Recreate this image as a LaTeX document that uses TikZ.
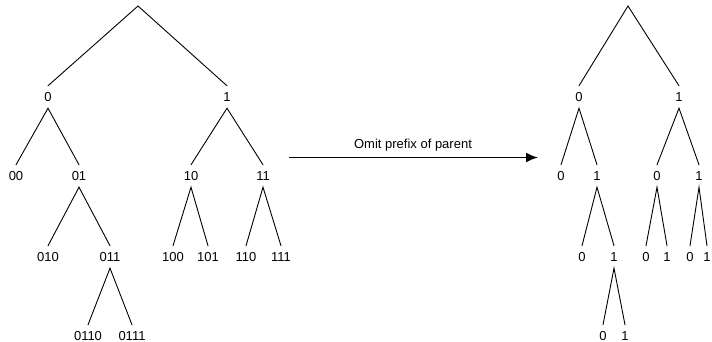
\documentclass[tikz,border=0pt]{standalone}
\usepackage{fontspec}
\setmainfont{Liberation Sans}
\usetikzlibrary{arrows.meta}
\begin{document}
\begin{tikzpicture}[x=1pt,y=-1pt,
  lbl/.style={inner sep=0pt, minimum height=22pt, font=\fontsize{13}{15}\selectfont},
  edge/.style={line width=0.9pt, line cap=round},
  bigarrow/.style={line width=1.8pt, -{Latex[length=12pt,width=10pt]}},
  ]
\useasboundingbox (0,0) rectangle (712,342);
% ---------- left tree ----------
\coordinate (Lr) at (138,6);
\node[lbl] (L0) at (48,97) {0};
\node[lbl] (L1) at (227,97) {1};
\node[lbl] (L00) at (16,176) {00};
\node[lbl] (L01) at (79,176) {01};
\node[lbl] (L10) at (191,176) {10};
\node[lbl] (L11) at (263,176) {11};
\node[lbl] (L010) at (48,257) {010};
\node[lbl] (L011) at (110,257) {011};
\node[lbl] (L100) at (173,257) {100};
\node[lbl] (L101) at (208,257) {101};
\node[lbl] (L110) at (246,257) {110};
\node[lbl] (L111) at (281,257) {111};
\node[lbl] (L0110) at (88,336) {0110};
\node[lbl] (L0111) at (132,336) {0111};
\draw[edge] (L0.north) -- (Lr) -- (L1.north);
\draw[edge] (L00.north) -- (L0.south) -- (L01.north);
\draw[edge] (L10.north) -- (L1.south) -- (L11.north);
\draw[edge] (L010.north) -- (L01.south) -- (L011.north);
\draw[edge] (L100.north) -- (L10.south) -- (L101.north);
\draw[edge] (L110.north) -- (L11.south) -- (L111.north);
\draw[edge] (L0110.north) -- (L011.south) -- (L0111.north);
% ---------- arrow ----------
\coordinate (as) at (289,157.5);
\coordinate (ae) at (538,157.5);
\draw[bigarrow] (as) -- (ae);
\node[lbl] (cap) at (413,145) {Omit prefix of parent};
% ---------- right tree ----------
\coordinate (Rr) at (628,6);
\node[lbl] (R0) at (579,97) {0};
\node[lbl] (R1) at (679,97) {1};
\node[lbl] (R00) at (561,176) {0};
\node[lbl] (R01) at (597,176) {1};
\node[lbl] (R10) at (657,176) {0};
\node[lbl] (R11) at (699,176) {1};
\node[lbl] (R010) at (582,257) {0};
\node[lbl] (R011) at (614,257) {1};
\node[lbl] (R100) at (646,257) {0};
\node[lbl] (R101) at (667,257) {1};
\node[lbl] (R110) at (690,257) {0};
\node[lbl] (R111) at (707,257) {1};
\node[lbl] (R0110) at (603,336) {0};
\node[lbl] (R0111) at (625,336) {1};
\draw[edge] (R0.north) -- (Rr) -- (R1.north);
\draw[edge] (R00.north) -- (R0.south) -- (R01.north);
\draw[edge] (R10.north) -- (R1.south) -- (R11.north);
\draw[edge] (R010.north) -- (R01.south) -- (R011.north);
\draw[edge] (R100.north) -- (R10.south) -- (R101.north);
\draw[edge] (R110.north) -- (R11.south) -- (R111.north);
\draw[edge] (R0110.north) -- (R011.south) -- (R0111.north);
\end{tikzpicture}
\end{document}
